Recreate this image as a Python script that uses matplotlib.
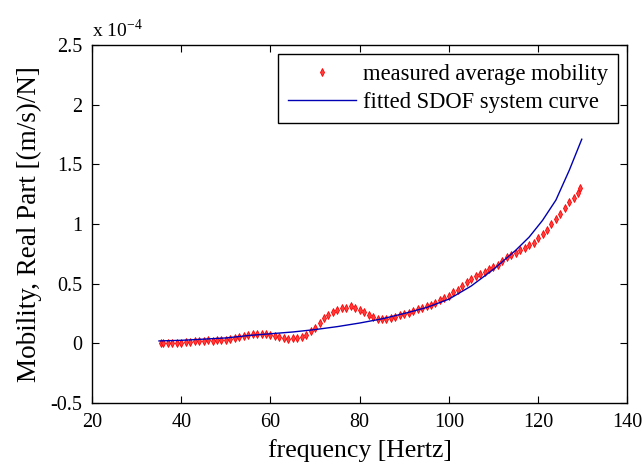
import matplotlib.pyplot as plt

# measured average mobility, real part (units of 1e-4 (m/s)/N)
freq_meas = [35.5, 36, 37, 38, 39, 40, 41, 42, 43, 44, 45, 46, 47, 48, 49,
             50, 51, 52, 53, 54, 55, 56, 57, 58, 59, 60, 61, 62, 63, 64,
             65, 66, 67, 68, 69, 70, 71, 72, 73, 74, 75, 76, 77, 78, 79,
             80, 81, 82, 83, 84, 85, 86, 87, 88, 89, 90, 91, 92, 93, 94,
             95, 96, 97, 98, 99, 100, 101, 102, 103, 104, 105, 106, 107, 108, 109,
             110, 111, 112, 113, 114, 115, 116, 117, 118, 119, 120, 121, 122, 123, 124,
             125, 126, 127, 128, 129, 129.5]
mob_meas = [0.00, 0.00, 0.00, 0.005, 0.00, 0.005, 0.01, 0.015, 0.02, 0.02, 0.02, 0.025, 0.02, 0.03, 0.025,
            0.03, 0.035, 0.045, 0.055, 0.06, 0.07, 0.075, 0.08, 0.075, 0.075, 0.07, 0.06, 0.05, 0.045, 0.04,
            0.045, 0.045, 0.05, 0.07, 0.10, 0.13, 0.17, 0.21, 0.24, 0.26, 0.28, 0.295, 0.30, 0.31, 0.30,
            0.28, 0.26, 0.235, 0.22, 0.205, 0.20, 0.205, 0.21, 0.22, 0.235, 0.245, 0.255, 0.27, 0.285, 0.30,
            0.31, 0.325, 0.34, 0.36, 0.38, 0.40, 0.43, 0.45, 0.48, 0.51, 0.54, 0.56, 0.58, 0.60, 0.62,
            0.64, 0.66, 0.69, 0.72, 0.74, 0.76, 0.78, 0.80, 0.82, 0.84, 0.88, 0.92, 0.95, 1.00, 1.04,
            1.08, 1.13, 1.18, 1.22, 1.26, 1.30]

# fitted SDOF curve
freq_fit = [35, 40, 45, 50, 55, 60, 65, 70, 75, 80, 85, 90, 95, 100,
            105, 110, 115, 118, 121, 124, 127, 129.8]
mob_fit = [0.02, 0.025, 0.035, 0.045, 0.065, 0.08, 0.095, 0.115, 0.14, 0.17, 0.205, 0.25, 0.30, 0.37,
           0.48, 0.62, 0.78, 0.89, 1.03, 1.20, 1.45, 1.71]

xticks = [20, 40, 60, 80, 100, 120, 140]
yticks = [-0.5, 0, 0.5, 1, 1.5, 2, 2.5]
ytick_labels = ['-0.5', '0', '0.5', '1', '1.5', '2', '2.5']

plt.rcParams['font.family'] = ['Liberation Serif', 'DejaVu Serif']

fig = plt.figure(figsize=(6.44, 4.73), dpi=100)
ax = fig.add_axes([0.143, 0.148, 0.831, 0.757])

ax.plot(freq_meas, mob_meas, linestyle='none', marker='d', markersize=4,
        markerfacecolor='#ff4040', markeredgecolor='#ff0000', markeredgewidth=0.6,
        label='measured average mobility')
ax.plot(freq_fit, mob_fit, color='#0000b4', linewidth=1.0,
        label='fitted SDOF system curve')

ax.set_xlim(20, 140)
ax.set_ylim(-0.5, 2.5)
ax.set_xticks(xticks)
ax.set_yticks(yticks)
ax.set_yticklabels(ytick_labels)
ax.tick_params(direction='in', top=True, right=True, length=5, labelsize=14.5)
ax.tick_params(axis='x', pad=7)
ax.tick_params(axis='y', pad=7)
for sp in ax.spines.values():
    sp.set_linewidth(1.0)

ax.set_xlabel('frequency [Hertz]', fontsize=18.5, labelpad=5)
ax.set_ylabel('Mobility, Real Part [(m/s)/N]', fontsize=19.5, labelpad=6)
ax.text(0.0, 1.012, r'x 10$^{\mathregular{-4}}$', transform=ax.transAxes, fontsize=14,
        ha='left', va='bottom')

leg = ax.legend(loc='upper right', fontsize=16.3, fancybox=False, edgecolor='black',
                framealpha=1, borderpad=0.45, handlelength=3.0, handletextpad=0.3,
                labelspacing=0.3, borderaxespad=0.4, markerscale=1.0)
leg.get_frame().set_linewidth(1.0)

fig.savefig('out.png', dpi=100)
